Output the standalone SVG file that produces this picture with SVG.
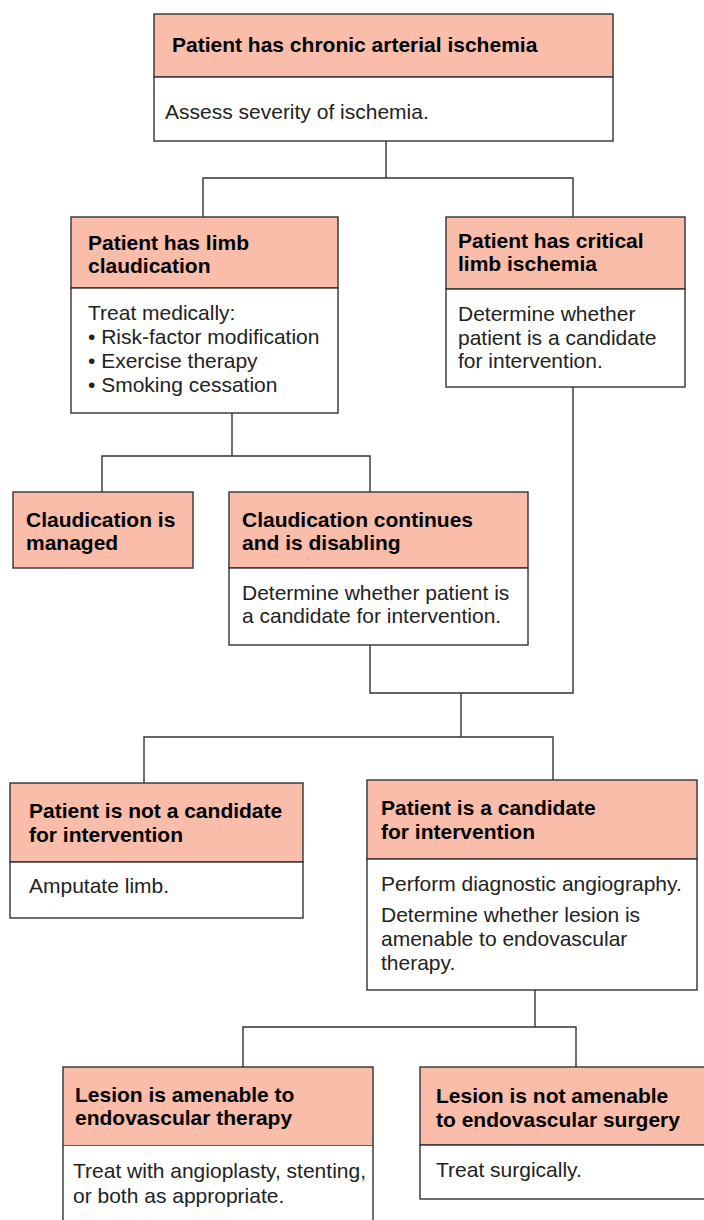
<svg xmlns="http://www.w3.org/2000/svg" width="704" height="1220" viewBox="0 0 704 1220">
  <style>
    .hd { fill: #F9BDA9; stroke: #333; stroke-width: 1.4; }
    .bd { fill: #fff; stroke: #333; stroke-width: 1.4; }
    .edge { fill: none; stroke: #333; stroke-width: 1.4; }
    .t { font-family: "Liberation Sans", Arial, sans-serif; font-size: 21px; fill: #000; font-weight: bold; }
    .b { font-family: "Liberation Sans", Arial, sans-serif; font-size: 21px; fill: #222; }
  </style>
  <rect width="704" height="1220" fill="#fff"/>

  <g id="connectors" class="edge">
    <path d="M386,141 V178"/>
    <path d="M203,217 V178 H573 V217"/>
    <path d="M232,413 V456"/>
    <path d="M102,492 V456 H370 V492"/>
    <path d="M370,645 V693 H573 V387"/>
    <path d="M461,693 V737"/>
    <path d="M144,783 V737 H553 V780"/>
    <path d="M535,990 V1027"/>
    <path d="M243,1067 V1027 H576 V1067"/>
  </g>

  <g id="chronic-ischemia">
    <rect class="hd" x="154" y="14" width="459" height="63"/>
    <rect class="bd" x="154" y="77" width="459" height="64"/>
    <text class="t" x="172" y="52">Patient has chronic arterial ischemia</text>
    <text class="b" x="165" y="119">Assess severity of ischemia.</text>
  </g>

  <g id="limb-claudication">
    <rect class="hd" x="71" y="217" width="267" height="71"/>
    <rect class="bd" x="71" y="288" width="267" height="125"/>
    <text class="t" x="88" y="250">Patient has limb</text>
    <text class="t" x="88" y="273">claudication</text>
    <text class="b" x="88" y="320">Treat medically:</text>
    <text class="b" x="88" y="344">• Risk-factor modification</text>
    <text class="b" x="88" y="368">• Exercise therapy</text>
    <text class="b" x="88" y="392">• Smoking cessation</text>
  </g>

  <g id="critical-limb-ischemia">
    <rect class="hd" x="446" y="217" width="239" height="72"/>
    <rect class="bd" x="446" y="289" width="239" height="98"/>
    <text class="t" x="458" y="248">Patient has critical</text>
    <text class="t" x="458" y="271">limb ischemia</text>
    <text class="b" x="458" y="321">Determine whether</text>
    <text class="b" x="458" y="345">patient is a candidate</text>
    <text class="b" x="458" y="368">for intervention.</text>
  </g>

  <g id="claudication-managed">
    <rect class="hd" x="13" y="492" width="180" height="76"/>
    <text class="t" x="26" y="527">Claudication is</text>
    <text class="t" x="26" y="550">managed</text>
  </g>

  <g id="claudication-disabling">
    <rect class="hd" x="229" y="492" width="299" height="76"/>
    <rect class="bd" x="229" y="568" width="299" height="77"/>
    <text class="t" x="242" y="527">Claudication continues</text>
    <text class="t" x="242" y="550">and is disabling</text>
    <text class="b" x="242" y="600">Determine whether patient is</text>
    <text class="b" x="242" y="623">a candidate for intervention.</text>
  </g>

  <g id="not-candidate">
    <rect class="hd" x="10" y="783" width="293" height="79"/>
    <rect class="bd" x="10" y="862" width="293" height="56"/>
    <text class="t" x="29" y="818">Patient is not a candidate</text>
    <text class="t" x="29" y="842">for intervention</text>
    <text class="b" x="29" y="893">Amputate limb.</text>
  </g>

  <g id="candidate">
    <rect class="hd" x="367" y="780" width="330" height="79"/>
    <rect class="bd" x="367" y="859" width="330" height="131"/>
    <text class="t" x="381" y="815">Patient is a candidate</text>
    <text class="t" x="381" y="839">for intervention</text>
    <text class="b" x="381" y="891">Perform diagnostic angiography.</text>
    <text class="b" x="381" y="922">Determine whether lesion is</text>
    <text class="b" x="381" y="946">amenable to endovascular</text>
    <text class="b" x="381" y="970">therapy.</text>
  </g>

  <g id="amenable">
    <rect class="hd" x="63" y="1067" width="310" height="79"/>
    <path class="bd" d="M63,1146 V1224 H373 V1146"/>
    <text class="t" x="75" y="1102">Lesion is amenable to</text>
    <text class="t" x="75" y="1125">endovascular therapy</text>
    <text class="b" x="73" y="1178">Treat with angioplasty, stenting,</text>
    <text class="b" x="73" y="1203">or both as appropriate.</text>
  </g>

  <g id="not-amenable">
    <rect class="hd" x="420" y="1067" width="294" height="78"/>
    <rect class="bd" x="420" y="1145" width="294" height="54"/>
    <text class="t" x="436" y="1103">Lesion is not amenable</text>
    <text class="t" x="436" y="1127">to endovascular surgery</text>
    <text class="b" x="436" y="1177">Treat surgically.</text>
  </g>
</svg>
